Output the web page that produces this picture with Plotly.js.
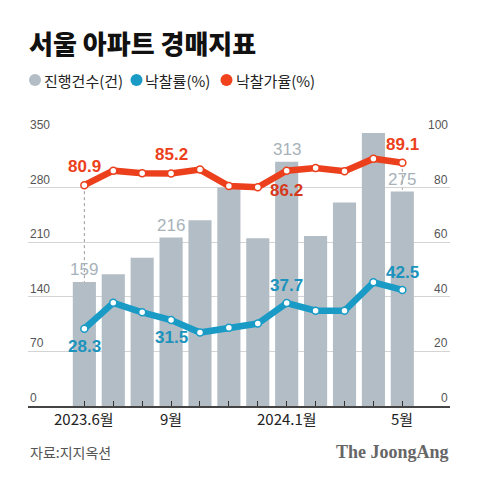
<!DOCTYPE html>
<html>
<head>
<meta charset="utf-8">
<script src="https://cdn.plot.ly/plotly-3.0.1.min.js"></script>
<style>html,body{margin:0;padding:0;background:#fff;}#chart{width:480px;height:480px;}</style>
</head>
<body>
<div id="chart"></div>
<script>
// ---- data ----
const months = ['2023.6','2023.7','2023.8','2023.9','2023.10','2023.11','2023.12','2024.1','2024.2','2024.3','2024.4','2024.5'];
const tickLabels = ['2023.6월','','','9월','','','','2024.1월','','','','5월'];
const cases = [159, 169, 190, 216, 238, 280, 215, 313, 218, 261, 351, 275];        // 진행건수(건)
const saleRate = [28.3, 37.8, 34.3, 31.5, 26.9, 28.7, 30.2, 37.7, 34.9, 34.9, 45.3, 42.5]; // 낙찰률(%)
const priceRate = [80.9, 86.2, 85.3, 85.2, 86.6, 80.6, 80.1, 86.2, 87.2, 86.0, 90.6, 89.1]; // 낙찰가율(%)
const leftTicks = [0, 70, 140, 210, 280, 350];
const rightTicks = [0, 20, 40, 60, 80, 100];
const casesLabelIdx = [0, 3, 7, 11];
const saleLabelIdx = [0, 3, 7, 11];
const priceLabelIdx = [0, 3, 7, 11];

// ---- layout geometry ----
const L = 28, R = 450, T = 133, B = 406;
const W = R - L, H = B - T;
const px = x => (x - L) / W;
const py = y => (B - y) / H;

const KR = '"Noto Sans CJK KR", "Noto Sans", sans-serif';
const NUM = '"Liberation Sans", Arial, sans-serif';
const GRAY = '#b3bdc5', BLUE = '#1a9bc6', RED = '#ec3f1c';
const LMAX = leftTicks[leftTicks.length - 1], RMAX = rightTicks[rightTicks.length - 1];

const traces = [
  {type:'bar', x: months, y: cases, marker:{color: GRAY}, width: 0.8, yaxis:'y', hoverinfo:'skip'},
  {type:'scatter', mode:'lines+markers', x: months, y: priceRate, yaxis:'y2',
   line:{color: RED, width: 6.5}, marker:{size: 7, color:'#fff', line:{color: RED, width: 1.5}}, cliponaxis:false},
  {type:'scatter', mode:'lines+markers', x: months, y: saleRate, yaxis:'y2',
   line:{color: BLUE, width: 6.5}, marker:{size: 7, color:'#fff', line:{color: BLUE, width: 1.5}}, cliponaxis:false}
];

const annotations = [];
const shapes = [];

// x tick labels (drawn as text at the category positions)
tickLabels.forEach((t, i) => { if (t) annotations.push({xref:'x', yref:'paper', x: i, y: 0, xanchor:'center', yanchor:'middle',
  yshift: -12, showarrow:false, text: t, font:{family: KR, size: 15, color:'#222', weight: 400}}); });

// axis tick labels (above gridlines, inside plot)
leftTicks.forEach(v => annotations.push({xref:'paper', yref:'y', x: 0, y: v, xanchor:'left', yanchor:'bottom',
  yshift: -1, showarrow:false, text: String(v), font:{family: NUM, size: 12, color:'#555'}}));
rightTicks.forEach(v => annotations.push({xref:'paper', yref:'y2', x: 1, y: v, xanchor:'right', yanchor:'bottom',
  yshift: -1, showarrow:false, text: String(v), font:{family: NUM, size: 12, color:'#555'}}));

// data labels (category axis: position by index)
casesLabelIdx.forEach(i => annotations.push({xref:'x', yref:'y', x: i, y: cases[i], text: String(cases[i]),
  showarrow:false, yanchor:'bottom', yshift: 1, font:{family: NUM, size: 17, color:'#a7b2ba'}}));
priceLabelIdx.forEach(i => {
  const below = (i === 7);
  annotations.push({xref:'x', yref:'y2', x: i, y: priceRate[i], text: priceRate[i].toFixed(1),
    showarrow:false, yanchor: below ? 'top' : 'bottom', yshift: below ? -8 : 7,
    font:{family: NUM, size: 17, color: below ? '#d8381a' : RED, weight: 'bold'}});
});
saleLabelIdx.forEach(i => {
  const below = (i === 0 || i === 3);
  annotations.push({xref:'x', yref:'y2', x: i, y: saleRate[i], text: saleRate[i].toFixed(1),
    showarrow:false, yanchor: below ? 'top' : 'bottom', yshift: below ? -6 : 6,
    font:{family: NUM, size: 17, color: '#1b93bd', weight: 'bold'}});
});

// dotted connectors from price-rate point to bar top
[0, 11].forEach(i => shapes.push({type:'line', xref:'x', yref:'y2', x0: i, x1: i,
  y0: priceRate[i], y1: cases[i] / LMAX * RMAX, line:{color:'#9a9a9a', width: 1, dash:'dot'}, layer:'below'}));

// title
annotations.push({xref:'paper', yref:'paper', x: px(27), y: py(42), xanchor:'left', yanchor:'middle', showarrow:false,
  text:'서울 아파트 경매지표', font:{family: KR, size: 26, color:'#111', weight: 900}});

// legend
const legendItems = [
  {cx: 35, tx: 42, color: GRAY, text:'진행건수(건)'},
  {cx: 136.5, tx: 143, color: BLUE, text:'낙찰률(%)'},
  {cx: 226.5, tx: 234, color: '#f0421c', text:'낙찰가율(%)'}
];
legendItems.forEach(it => {
  shapes.push({type:'circle', xref:'paper', yref:'paper', xsizemode:'pixel', ysizemode:'pixel',
    xanchor: px(it.cx), yanchor: py(80), x0:-6, x1:6, y0:-6, y1:6, fillcolor: it.color, line:{width:0}});
  annotations.push({xref:'paper', yref:'paper', x: px(it.tx), y: py(80), xanchor:'left', yanchor:'middle', showarrow:false,
    text: it.text, font:{family: KR, size: 15, color:'#222', weight: 400}});
});

// footer
annotations.push({xref:'paper', yref:'paper', x: px(28), y: py(452), xanchor:'left', yanchor:'middle', showarrow:false,
  text:'자료:지지옥션', font:{family: KR, size: 14, color:'#555', weight: 400}});
annotations.push({xref:'paper', yref:'paper', x: px(451), y: py(452), xanchor:'right', yanchor:'middle', showarrow:false,
  text:'The JoongAng', font:{family:'"Liberation Serif", "DejaVu Serif", serif', size: 18, color:'#666', weight:'bold'}});

const layout = {
  width: 480, height: 480,
  margin:{l: L, r: 480 - R, t: T, b: 480 - B, pad: 0},
  paper_bgcolor:'#fff', plot_bgcolor:'#fff',
  showlegend:false,
  xaxis:{type:'category', range:[-1.95, 12.65], tickvals: months, showticklabels:false,
    ticks:'inside', ticklen: 5, tickwidth: 1, tickcolor:'#333',
    showline:true, linecolor:'#444', linewidth: 1.5, showgrid:false, zeroline:false, fixedrange:true},
  yaxis:{range:[0, LMAX], tickvals: leftTicks, showgrid:true, gridcolor:'#d4d4d4', gridwidth: 1,
    zeroline:false, showline:false, ticks:'', showticklabels:false},
  yaxis2:{range:[0, RMAX], tickvals: rightTicks, overlaying:'y', side:'right', showgrid:false,
    zeroline:false, showline:false, ticks:'', showticklabels:false},
  annotations, shapes,
  font:{family: KR}
};

Plotly.newPlot('chart', traces, layout, {displayModeBar:false, staticPlot:true});
</script>
</body>
</html>
